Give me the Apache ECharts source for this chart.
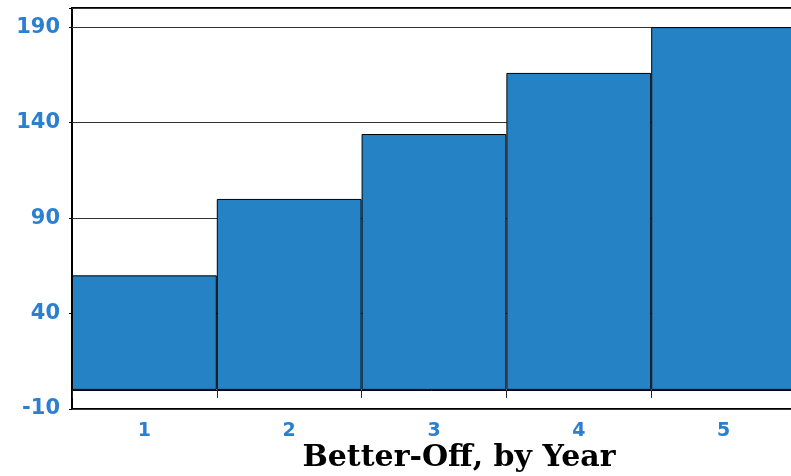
<!DOCTYPE html>
<html>
<head>
<meta charset="utf-8">
<script src="https://cdn.jsdelivr.net/npm/echarts@6/dist/echarts.min.js"></script>
<style>
	html, body { margin: 0; padding: 0; background: #fff; }
	#chart { width: 791px; height: 476px; }
</style>
</head>
<body>
<div id="chart"></div>
<script>
	// data
	const years = ['1', '2', '3', '4', '5']
	const values = [60, 100, 134, 166, 190]
	const yTicks = [-10, 40, 90, 140, 190]

	const dom = echarts.init(document.getElementById('chart'))

	let option = {
		animation: false,
		title: {
			text: 'Better-Off, by Year',
			left: 454,
			top: 438,
			textAlign: 'center',
			textStyle: {
				color: '#000',
				fontFamily: 'DejaVu Serif',
				fontWeight: 'bold',
				fontSize: 30
			}
		},
		grid: {
			show: true,
			left: 72,
			width: 724,
			top: 8,
			bottom: 67,
			borderColor: '#000',
			borderWidth: 2,
			containLabel: false,
			outerBoundsMode: 'none'
		},
		xAxis: {
			type: 'category',
			data: years,
			axisLine: {
				onZero: true,
				lineStyle: { color: '#000', width: 1 }
			},
			axisTick: {
				show: true,
				length: 8,
				lineStyle: { color: '#222' }
			},
			axisLabel: {
				color: '#2a7fd0',
				fontFamily: 'DejaVu Sans',
				fontWeight: 'bold',
				fontSize: 19,
				margin: 13
			}
		},
		yAxis: {
			type: 'value',
			min: -10,
			max: 200,
			interval: 50,
			axisLine: { show: false },
			axisTick: {
				show: true,
				length: 3,
				lineStyle: { color: '#000' }
			},
			axisLabel: {
				color: '#2a7fd0',
				fontFamily: 'DejaVu Sans',
				fontWeight: 'bold',
				fontSize: 21,
				margin: 12,
				formatter: v => yTicks.includes(v) ? String(v) : ''
			},
			splitLine: {
				lineStyle: { color: '#333', width: 1 }
			}
		},
		series: [{
			type: 'bar',
			data: values,
			barCategoryGap: 0,
			itemStyle: {
				color: '#2582c5',
				borderColor: '#000',
				borderWidth: 1
			}
		}]
	}

	dom.setOption(option)
</script>
</body>
</html>
